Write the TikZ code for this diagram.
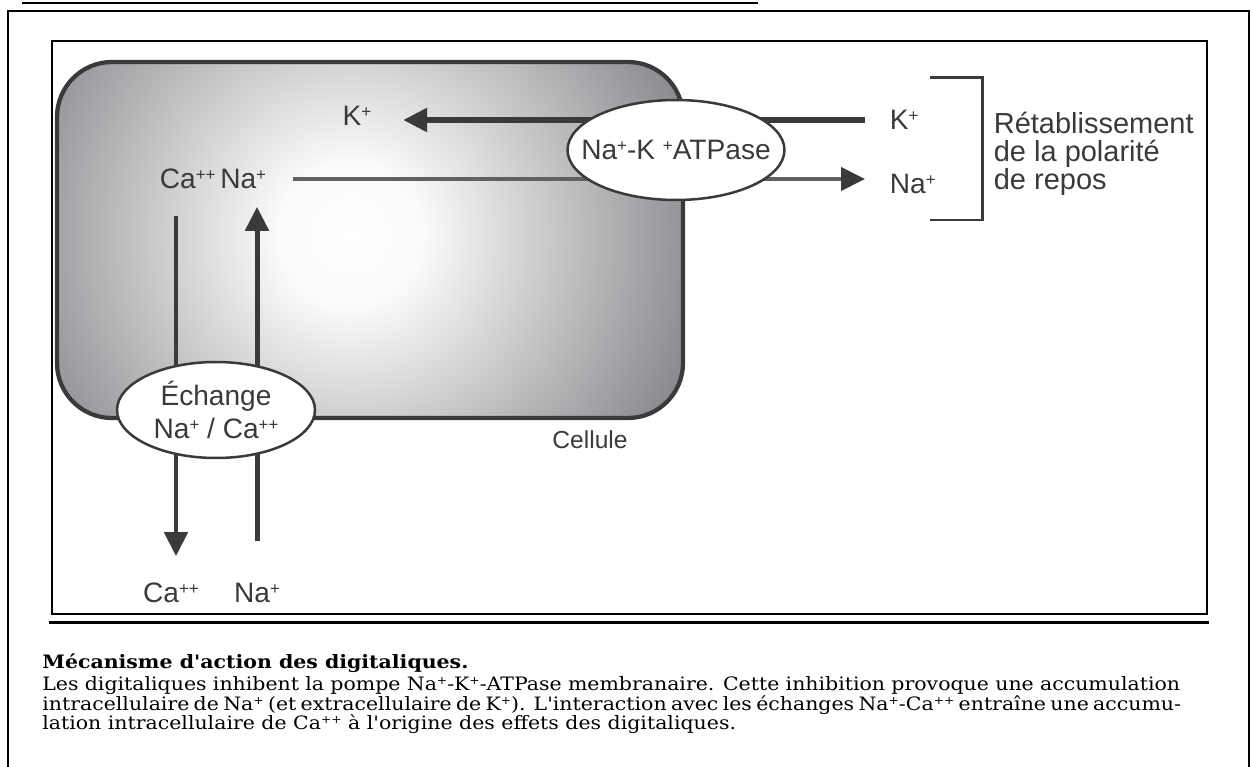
\documentclass[tikz,border=0pt]{standalone}
\usepackage{fontspec}
\usepackage{graphicx}
\usepackage{tikz}
\usetikzlibrary{shapes.geometric,arrows.meta}

\newfontfamily\figfont{Liberation Sans}
\newfontfamily\capfont[FakeStretch=1.11]{DejaVu Serif}

\definecolor{inkgray}{RGB}{58,58,58}
\definecolor{cellgray}{RGB}{136,138,141}
\pgfdeclareradialshading{cellglow}{\pgfpoint{0bp}{0bp}}{color(0bp)=(white); color(5bp)=(white!96!cellgray); color(25bp)=(cellgray); color(50bp)=(cellgray)}

% small raised charge signs
\newcommand\chg[1]{\raisebox{0.55ex}{\scalebox{0.6}{#1}}}

\tikzset{
  ion/.style={font=\figfont\fontsize{16}{16}\selectfont, text=inkgray, inner sep=2pt},
  carrier/.style={ellipse, draw=inkgray, line width=0.05cm, fill=white, inner sep=0pt,
    align=center, font=\figfont\fontsize{16}{19}\selectfont, text=inkgray},
  flux/.style={draw=inkgray, line width=0.1cm, -{Triangle[length=0.48cm,width=0.46cm,color=inkgray]}},
  legendline/.style={font=\capfont\fontsize{10.5}{12}\selectfont, inner sep=0pt, anchor=base west}
}

\begin{document}
\begin{tikzpicture}[x=0.02cm, y=-0.02cm]
	\useasboundingbox (0,0) rectangle (1252,767);

	% frames
	\draw[line width=0.05cm] (22,3) -- (758,3); % title underline
	\draw[line width=0.05cm] (8,767) -- (8,11) -- (1249,11) -- (1249,767);
	\draw[line width=0.035cm] (52,41) rectangle (1207,614);
	\draw[line width=0.06cm] (49,622) -- (1209,622);

	% the cell
	\begin{scope}
		\clip[rounded corners=1.1cm] (57,62) rectangle (683,418);
		\shade[shading=cellglow] (-10,-125) rectangle (710,595);
	\end{scope}
	\draw[draw=inkgray, line width=0.085cm, rounded corners=1.1cm] (57,62) rectangle (683,418);
	\node[ion, font=\figfont\fontsize{14}{15}\selectfont] (cell) at (590,440) {Cellule};

	% ions
	\node[ion] (kin) at (357,116) {K\chg{+}};
	\node[ion] (cana) at (213,179) {Ca\chg{++}\,Na\chg{+}};
	\node[ion, anchor=west] (kout) at (886,120) {K\chg{+}};
	\node[ion, anchor=west] (naout) at (886,184) {Na\chg{+}};
	\node[ion] (caex) at (171,593) {Ca\chg{++}};
	\node[ion] (naex) at (257,593) {Na\chg{+}};

	% bracket
	\draw[draw=inkgray, line width=0.06cm] (930,78) -- (982,78) -- (982,220) -- (930,220);
	\node[ion, anchor=west, align=left, font=\figfont\fontsize{16.5}{16}\selectfont] (repos) at (990,154) {Rétablissement\\de la polarité\\de repos};

	% fluxes
	\draw[flux, line width=0.11cm, shorten <=0.42cm, shorten >=0.56cm] (kout.west) -- (kout.west -| kin.east);
	\draw[flux, draw=inkgray!80, line width=0.08cm, shorten <=0.46cm, shorten >=0.42cm] (cana.east) -- (cana.east -| naout.west);
	\draw[flux, line width=0.09cm, shorten <=0.46cm, shorten >=0.46cm] ([xshift=0.1cm]cana.south -| caex.north) -- ([xshift=0.1cm]caex.north);
	\draw[flux, shorten <=0.76cm, shorten >=0.28cm] (naex.north) -- (naex.north |- cana.south);

	% carriers
	\node[carrier, minimum width=4.34cm, minimum height=2cm] (pump) at (676,150) {\makebox[0pt]{Na\chg{+}-K \chg{+}ATPase}};
	\node[carrier, minimum width=3.96cm, minimum height=1.92cm] (exch) at (216,410) {\makebox[0pt]{Échange}\\\makebox[0pt]{Na\chg{+} / Ca\chg{++}}};

	% legend, one node per printed line
	\node[legendline] (legtitle) at (42,668) {\bfseries Mécanisme d'action des digitaliques.};
	\node[legendline] (leg1) at (42,690) {\makebox[22.76cm][s]{Les digitaliques inhibent la pompe Na\chg{+}-K\chg{+}-ATPase membranaire. Cette inhibition provoque une accumulation}};
	\node[legendline] (leg2) at (42,710) {\makebox[22.76cm][s]{intracellulaire de Na\chg{+} (et extracellulaire de K\chg{+}). L'interaction avec les échanges Na\chg{+}-Ca\chg{++} entraîne une accumu-}};
	\node[legendline] (leg3) at (42,729) {lation intracellulaire de Ca\chg{++} à l'origine des effets des digitaliques.};
\end{tikzpicture}
\end{document}
